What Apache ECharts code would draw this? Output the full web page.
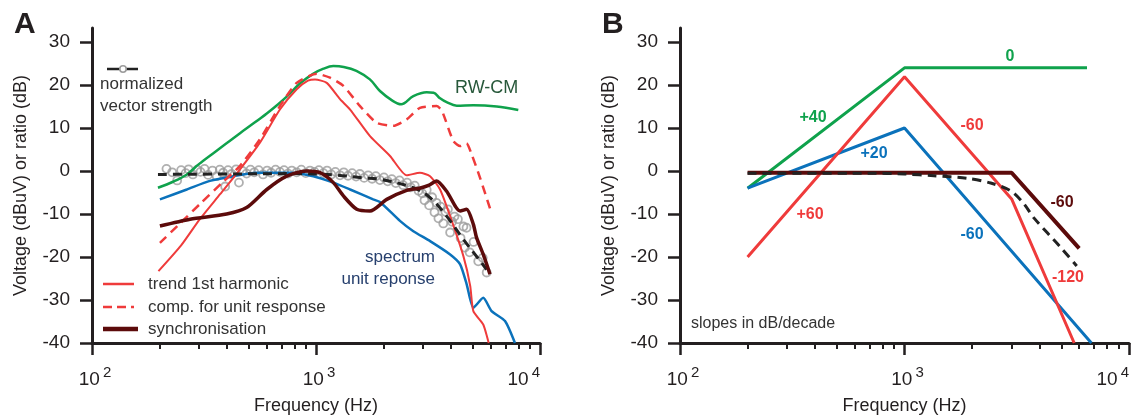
<!DOCTYPE html>
<html>
<head>
<meta charset="utf-8">
<script src="https://cdn.jsdelivr.net/npm/echarts@6/dist/echarts.min.js"></script>
<style>
  html, body { margin: 0; padding: 0; background: #fff; }
  #chart { width: 1131px; height: 418px; }
</style>
</head>
<body>
<div id="chart"></div>
<script>
// ---- panel A : measured curves, [Hz, dB] ----
const rwcm = [[197,-3.9],[230,-2.5],[265,-0.8],[300,1.6],[347,4.1],[400,6.5],[458,8.8],[530,11.2],[603,13.4],[680,15.6],[740,17.3],[850,20.4],[970,22.6],[1080,23.8],[1195,24.4],[1330,24.2],[1515,23.3],[1740,21.3],[1930,18.6],[2200,16.3],[2400,15.5],[2720,17.4],[3120,18.3],[3350,18.2],[3580,16.9],[3830,16.0],[4250,15.2],[5040,15.3],[6410,15.0],[8000,14.2]];
const trend1st = [[198,-23.3],[250,-17.3],[303,-11.2],[373,-5.4],[458,0.4],[562,6.6],[690,14.3],[820,19.0],[920,21.0],[990,21.3],[1117,20.5],[1280,16.7],[1420,14.3],[1742,8.1],[2140,3.5],[2540,-1.0],[2910,-0.4],[3230,-1.2],[3580,-4.3],[3970,-10.5],[4550,-19.8],[4880,-26.7],[5040,-32.6],[5580,-35.7],[5900,-40]];
const compUnit = [[201,-16.7],[247,-12.2],[303,-7.7],[385,-2.5],[458,1.2],[562,7.4],[690,15.1],[820,20.5],[1007,22.6],[1155,21.7],[1325,19.8],[1572,15.1],[1865,11.2],[2215,10.5],[2540,12.0],[2910,14.7],[3460,15.1],[3650,14.0],[4100,7.0],[4400,5.8],[4700,6.4],[4950,3.9],[5400,-1.6],[5980,-8.7]];
const spectrumUnit = [[201,-6.6],[265,-4.3],[336,-2.3],[427,-1.2],[543,-0.4],[765,-0.4],[973,-1.2],[1195,-2.7],[1420,-4.3],[1800,-6.6],[1930,-7.2],[2370,-11.6],[2720,-14.0],[3230,-16.3],[3970,-19.4],[4400,-21.7],[4710,-26.4],[5040,-31.8],[5580,-29.5],[6080,-32.6],[6980,-34.9],[7730,-40]];
const synchro = [[201,-12.8],[274,-11.2],[399,-10.0],[490,-8.5],[603,-4.3],[740,-1.2],[908,0],[1042,-0.4],[1195,-2.7],[1325,-5.8],[1520,-8.9],[1742,-9.3],[2070,-6.6],[2540,-4.5],[2900,-4.0],[3200,-3.3],[3450,-2.3],[3830,-4.7],[4400,-9.3],[4700,-8.9],[5040,-12.4],[5210,-15.5],[5580,-19.4],[5980,-24.0]];
const vsFit = [[197,-0.8],[400,-0.7],[800,-0.6],[1200,-0.9],[1625,-1.6],[1930,-1.9],[2720,-3.9],[3230,-6.2],[3830,-10.5],[4550,-15.9],[5400,-20.9],[5780,-22.9]];
const vsPoints = [[215,0.5],[228,-0.3],[240,-2.2],[250,0.2],[262,-0.5],[270,0.4],[282,-0.8],[295,0.3],[305,-0.2],[318,0.5],[330,-0.9],[345,0.1],[360,-1.2],[372,0.3],[385,-0.4],[393,-3.6],[405,0.2],[420,-0.7],[440,0.4],[453,-2.7],[470,0],[490,-0.6],[510,0.3],[530,-0.3],[555,0.2],[580,-0.8],[605,0.1],[630,-0.4],[660,0.3],[690,-0.2],[720,0.2],[750,-0.6],[780,0.1],[820,-0.3],[860,0.3],[900,-0.5],[940,0.1],[985,-0.2],[1030,0.2],[1080,-0.5],[1120,0.1],[1170,-0.8],[1220,-0.2],[1280,-1.0],[1330,-0.3],[1390,-1.1],[1450,-0.5],[1510,-1.3],[1570,-0.7],[1640,-1.6],[1710,-1.0],[1780,-1.8],[1850,-1.2],[1930,-2.1],[2010,-1.5],[2090,-2.4],[2180,-1.9],[2270,-2.8],[2360,-2.2],[2450,-3.3],[2550,-2.7],[2650,-3.8],[2760,-3.4],[2870,-4.6],[2980,-5.2],[3050,-6.8],[3120,-4.4],[3200,-8.0],[3300,-6.1],[3380,-9.6],[3450,-7.4],[3520,-11.0],[3600,-8.3],[3700,-12.2],[3780,-9.5],[3880,-8.9],[3970,-14.3],[4050,-11.8],[4150,-10.6],[4300,-11.2],[4420,-15.6],[4550,-12.9],[4620,-17.8],[4700,-13.2],[4850,-18.9],[5050,-16.5],[5300,-21.0],[5550,-20.2],[5780,-23.6]];

// ---- panel B : straight-line slopes ----
const slopeRwcm = [[200,-4],[1000,24],[6500,24]];
const slopeTrend = [[200,-20],[1000,21.9],[3000,-6.5],[5700,-40]];
const slopeSpec = [[200,-4],[1000,10],[6800,-40]];
const slopeSync = [[200,-0.4],[3000,-0.4],[6000,-18]];
const slopeVs = [[200,-0.5],[700,-0.5],[1000,-0.7],[1350,-1.1],[1900,-1.7],[2420,-2.8],[2970,-4.6],[3400,-7.6],[3770,-10.9],[4970,-17.8],[5850,-22.1]];

const yTicks = [-40,-30,-20,-10,0,10,20,30];
const minorHz = [200,300,400,500,600,700,800,900,2000,3000,4000,5000,6000,7000,8000,9000];

const INK = '#231f20';
const FONT = '"Liberation Sans", Arial, sans-serif';
const GREEN = '#0fa24c', RED = '#ef3b3b', BLUE = '#0b72bb', BROWN = '#5c0b0b';

let chart = echarts.init(document.getElementById('chart'));

function logAxis(grid) {
  return {
    type: 'log', logBase: 10, gridIndex: grid, min: 100, max: 10000, position: 'bottom',
    axisLine: { onZero: false, lineStyle: { color: INK, width: 3 } },
    axisTick: { length: 12, lineStyle: { color: INK, width: 2.5 } },
    axisLabel: {
      margin: 22, color: INK, fontFamily: FONT, alignMaxLabel: 'right',
      formatter: v => '{b|10}{s|' + Math.round(Math.log10(v)) + '}',
      rich: {
        b: { fontSize: 19, fontFamily: FONT, color: INK, verticalAlign: 'bottom', lineHeight: 24, padding: [0, 0, 0, 6] },
        s: { fontSize: 15, fontFamily: FONT, color: INK, verticalAlign: 'top', lineHeight: 24, padding: [0, 0, 12, 3] }
      }
    },
    splitLine: { show: false },
    name: 'Frequency (Hz)', nameLocation: 'middle', nameGap: 54,
    nameTextStyle: { fontSize: 18, color: INK, fontFamily: FONT }
  };
}
function minorAxis(grid) {
  return {
    type: 'value', gridIndex: grid, min: 2, max: 4, position: 'bottom',
    axisLine: { show: false, onZero: false },
    axisTick: { show: true, customValues: minorHz.map(Math.log10), length: 6, lineStyle: { color: INK, width: 2 } },
    axisLabel: { show: false },
    splitLine: { show: false }
  };
}
function dbAxis(grid) {
  return {
    type: 'value', gridIndex: grid, min: -40, max: 33.26,
    axisLine: { show: true, onZero: false, lineStyle: { color: INK, width: 3 } },
    axisTick: { customValues: yTicks, length: 12, lineStyle: { color: INK, width: 2.5 } },
    axisLabel: { customValues: yTicks, fontSize: 19, color: INK, fontFamily: FONT, margin: 22 },
    splitLine: { show: false },
    name: 'Voltage (dBuV) or ratio (dB)', nameLocation: 'middle', nameGap: 62, nameRotate: 90,
    nameTextStyle: { fontSize: 18, color: INK, fontFamily: FONT }
  };
}
function line(data, xi, yi, color, width, extra) {
  return Object.assign({
    type: 'line', data: data, xAxisIndex: xi, yAxisIndex: yi,
    showSymbol: false, smooth: 0.35, lineStyle: { color: color, width: width }
  }, extra || {});
}
function txt(x, y, s, color, size, bold, align) {
  return { type: 'text', x: x, y: y, style: { text: s, fill: color, fontSize: size, fontFamily: FONT, fontWeight: bold ? 'bold' : 'normal', align: align || 'left', verticalAlign: 'middle' } };
}
function seg(x1, x2, y, color, width, dash) {
  return { type: 'line', shape: { x1: x1, y1: y, x2: x2, y2: y }, style: { stroke: color, lineWidth: width, lineDash: dash || null } };
}

chart.setOption({
  animation: false,
  grid: [
    { left: 92, top: 28, width: 448, height: 315, outerBoundsMode: 'none' },
    { left: 680, top: 28, width: 449, height: 315, outerBoundsMode: 'none' }
  ],
  xAxis: [logAxis(0), minorAxis(0), logAxis(1), minorAxis(1)],
  yAxis: [dbAxis(0), dbAxis(1)],
  series: [
    // panel A
    {
      type: 'scatter', data: vsPoints, xAxisIndex: 0, yAxisIndex: 0, symbol: 'circle', symbolSize: 8,
      itemStyle: { color: 'rgba(255,255,255,0)', borderColor: '#9c9c9c', borderWidth: 1.8 }
    },
    line(rwcm, 0, 0, GREEN, 2.5),
    line(spectrumUnit, 0, 0, BLUE, 2.5, { smooth: 0.2 }),
    line(compUnit, 0, 0, RED, 2.5, { smooth: 0.2, lineStyle: { color: RED, width: 2.5, type: [9, 6] } }),
    line(trend1st, 0, 0, RED, 2, { smooth: 0.2 }),
    line(vsFit, 0, 0, '#222', 3, { lineStyle: { color: '#222', width: 3, type: [9, 6] } }),
    line(synchro, 0, 0, BROWN, 3.5, { smooth: 0.25 }),
    // panel B
    line(slopeRwcm, 2, 1, GREEN, 3, { smooth: false }),
    line(slopeSpec, 2, 1, BLUE, 3, { smooth: false }),
    line(slopeTrend, 2, 1, RED, 3, { smooth: false }),
    line(slopeSync, 2, 1, BROWN, 4, { smooth: false }),
    line(slopeVs, 2, 1, '#222', 3, { smooth: 0.3, lineStyle: { color: '#222', width: 3, type: [9, 6] } })
  ],
  graphic: [
    txt(14, 25, 'A', INK, 30, true),
    txt(602, 25, 'B', INK, 30, true),
    // panel A legend
    seg(107, 138, 69, '#222', 2.5),
    { type: 'circle', shape: { cx: 123, cy: 69, r: 3.2 }, style: { fill: '#fff', stroke: '#9c9c9c', lineWidth: 1.6 } },
    txt(100, 84, 'normalized', '#333', 17),
    txt(100, 106, 'vector strength', '#333', 17),
    seg(103, 134, 284, RED, 2.5),
    seg(103, 134, 307, RED, 2.5, [9, 5]),
    seg(103, 138, 329, BROWN, 4.5),
    txt(148, 284, 'trend 1st harmonic', '#333', 17),
    txt(148, 307, 'comp. for unit response', '#333', 17),
    txt(148, 329, 'synchronisation', '#333', 17),
    txt(455, 88, 'RW-CM', '#27583a', 18),
    txt(435, 257, 'spectrum', '#27406e', 17, false, 'right'),
    txt(435, 279, 'unit reponse', '#27406e', 17, false, 'right'),
    // panel B slope labels
    txt(1010, 57, '0', GREEN, 16, true, 'center'),
    txt(813, 118, '+40', GREEN, 16, true, 'center'),
    txt(874, 154, '+20', BLUE, 16, true, 'center'),
    txt(972, 126, '-60', RED, 16, true, 'center'),
    txt(810, 215, '+60', RED, 16, true, 'center'),
    txt(972, 235, '-60', BLUE, 16, true, 'center'),
    txt(1062, 203, '-60', BROWN, 16, true, 'center'),
    txt(1068, 278, '-120', RED, 16, true, 'center'),
    txt(691, 324, 'slopes in dB/decade', '#333', 16)
  ]
});
</script>
</body>
</html>
